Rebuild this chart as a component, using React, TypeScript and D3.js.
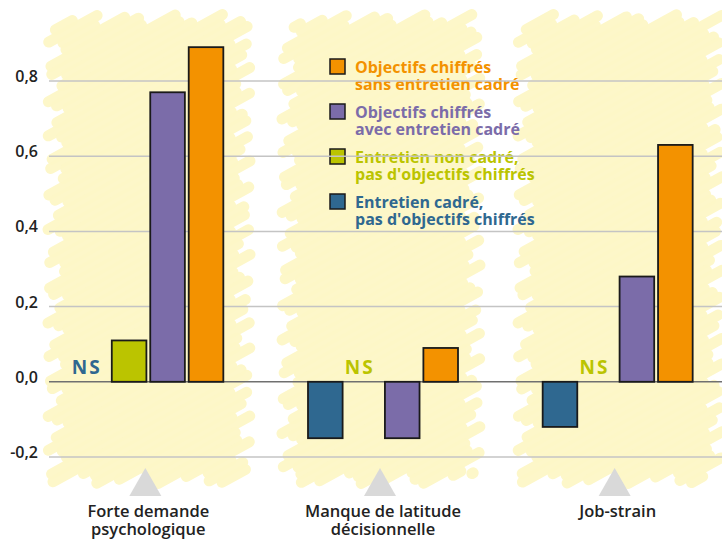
import React from 'react';
import * as d3 from 'd3';

// categories (x axis), two lines each
const categories = ['Forte demande|psychologique', 'Manque de latitude|décisionnelle', 'Job-strain'];

// series, in bar order inside a group
const seriesKeys = ['cadreSansObj', 'nonCadreSansObj', 'objAvecCadre', 'objSansCadre'];
const seriesColors = ['#2f6890', '#bbc400', '#7b6ca9', '#f39200'];
const seriesLabels = [
  ['Entretien cadré,', "pas d'objectifs chiffrés"],
  ['Entretien non cadré,', "pas d'objectifs chiffrés"],
  ['Objectifs chiffrés', 'avec entretien cadré'],
  ['Objectifs chiffrés', 'sans entretien cadré'],
];

// values per series (null = NS, not significant)
const cadreSansObj = [null, -0.15, -0.12];
const nonCadreSansObj = [0.11, null, null];
const objAvecCadre = [0.77, -0.15, 0.28];
const objSansCadre = [0.89, 0.09, 0.63];
const seriesValues = [cadreSansObj, nonCadreSansObj, objAvecCadre, objSansCadre];

const yTicks = [-0.2, 0, 0.2, 0.4, 0.6, 0.8];

const W = 722;
const H = 539;

// scribbly yellow background behind each group
const scribble = (x0: number, x1: number, y0: number, y1: number, seed: number) => {
  const s = 0.55;
  const lines: { xa: number; ya: number; xb: number; yb: number }[] = [];
  const cMin = y0 + s * x0;
  const cMax = y1 + s * x1;
  let k = 0;
  for (let c = cMin; c <= cMax; c += 8.5) {
    k++;
    let xa = Math.max(x0, (c - y1) / s);
    let xb = Math.min(x1, (c - y0) / s);
    if (xb - xa < 4) continue;
    const ja = 10 * Math.sin(k * 1.7 + seed);
    const jb = 10 * Math.cos(k * 2.3 + seed * 1.3);
    xa += ja;
    xb += jb;
    lines.push({ xa, ya: c - s * xa, xb, yb: c - s * xb });
  }
  return lines;
};

const scribbleZones = [
  [58, 240, 20, 478],
  [292, 470, 20, 478],
  [528, 712, 20, 478],
];

export default function App() {
  const x = d3.scaleBand().domain(categories).range([31, 735]);
  const inner = d3.scaleBand().domain(seriesKeys).range([-75, 75]).paddingInner(0.1);
  const y = d3.scaleLinear().domain([-0.2, 0.8]).range([457, 81]);
  const fmt = (v: number) => d3.format('.1f')(v).replace('.', ',').replace('−', '-');

  const legendOrder = [3, 2, 1, 0];

  return (
    <svg width={W} height={H} style={{ position: 'absolute', left: 0, top: 0, background: '#fff' }}>
      {/* scribble backgrounds */}
      <g>
        {scribbleZones.map((z, zi) =>
          scribble(z[0], z[1], z[2], z[3], zi * 3.1).map((l, i) => (
            <line
              key={`s${zi}-${i}`}
              x1={l.xa}
              y1={l.ya}
              x2={l.xb}
              y2={l.yb}
              stroke="#fdf7c7"
              strokeWidth={11}
              strokeLinecap="round"
              opacity={0.95}
            />
          ))
        )}
      </g>

      {/* legend */}
      <g fontFamily="'Open Sans', sans-serif" fontWeight="bold" fontSize={16}>
        {legendOrder.map((si, i) => (
          <g key={si} transform={`translate(330, ${59 + i * 45})`}>
            <rect x={0} y={0} width={15} height={15} fill={seriesColors[si]} stroke="#1a1a1a" strokeWidth={1.5} />
            {seriesLabels[si].map((t, li) => (
              <text key={li} x={25} y={14 + li * 17} fill={seriesColors[si]}>
                {t}
              </text>
            ))}
          </g>
        ))}
      </g>

      {/* grid */}
      <g>
        {yTicks.map((t) => (
          <line
            key={t}
            x1={49}
            x2={W}
            y1={y(t)}
            y2={y(t)}
            stroke={t === 0 ? '#707070' : '#c4c4c4'}
            strokeWidth={1.5}
          />
        ))}
      </g>

      {/* y labels */}
      <g fontFamily="'Open Sans', sans-serif" fontSize={16} fontWeight={600} fill="#222" textAnchor="end">
        {yTicks.map((t) => (
          <text key={t} x={38} y={y(t) + 1}>
            {fmt(t)}
          </text>
        ))}
      </g>

      {/* bars */}
      {categories.map((c, ci) => {
        const cx = (x(c) as number) + x.bandwidth() / 2;
        return (
          <g key={c} transform={`translate(${cx},0)`}>
            {seriesKeys.map((k, si) => {
              const v = seriesValues[si][ci];
              const bx = inner(k) as number;
              if (v === null) {
                return (
                  <text
                    key={k}
                    x={bx + inner.bandwidth() / 2 - 4}
                    y={y(0) - 8}
                    textAnchor="middle"
                    fontFamily="'Open Sans', sans-serif"
                    fontWeight="bold"
                    fontSize={19}
                    letterSpacing={2}
                    fill={seriesColors[si]}
                  >
                    NS
                  </text>
                );
              }
              return (
                <rect
                  key={k}
                  x={bx}
                  width={inner.bandwidth()}
                  y={Math.min(y(v), y(0))}
                  height={Math.abs(y(v) - y(0))}
                  fill={seriesColors[si]}
                  stroke="#1a1a1a"
                  strokeWidth={1.8}
                />
              );
            })}
            <path d="M-19,496 L-3,468 L13,496 Z" fill="#d9d9d9" />
            <g fontFamily="'Open Sans', sans-serif" fontSize={16.5} fontWeight={600} fill="#222" textAnchor="middle">
              {c.split('|').map((t, li) => (
                <text key={li} x={0} y={517 + li * 18}>
                  {t}
                </text>
              ))}
            </g>
          </g>
        );
      })}
    </svg>
  );
}
